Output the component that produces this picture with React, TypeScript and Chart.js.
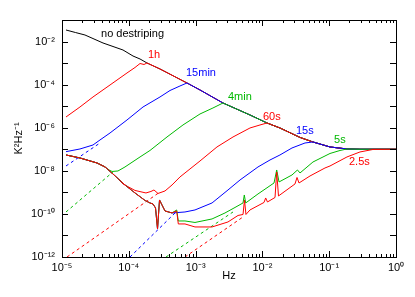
import React, { useEffect, useRef } from "react";
import { Chart, registerables } from "chart.js";

Chart.register(...registerables);

// Values are log10 of frequency (Hz) and of power (K²Hz⁻¹).

// "no destriping" curve; also the shared high-frequency tail of every destriped curve
const commonLogF = [-4.94, -4.8, -4.656, -4.386, -4.087, -3.937, -3.832, -3.728, -3.533, -3.129, -2.934, -2.59, -2.186, -1.931, -1.737, -1.437, -1.243, -0.988, -0.734, -0.539, 0];
const commonLogP = [-1.464, -1.58, -1.696, -2.067, -2.392, -2.671, -2.81, -2.995, -3.274, -3.923, -4.248, -4.852, -5.408, -5.78, -6.012, -6.45, -6.661, -6.893, -6.986, -7.0, -7.0];

// shared low-frequency residual of the short-baseline runs
const bundleLogF = [-4.94, -4.731, -4.476, -4.356, -4.237, -4.057, -3.907, -3.757, -3.683, -3.638, -3.6, -3.57, -3.54, -3.503, -3.458, -3.353];
const bundleLogP = [-7.265, -7.404, -7.636, -7.821, -8.146, -8.657, -9.028, -9.376, -9.492, -9.538, -9.724, -10.698, -9.353, -9.585, -9.863, -9.956];

const h1LogF = [-4.94, -4.731, -4.536, -4.281, -4.027, -3.907, -3.832, -3.772];
const h1LogP = [-5.501, -5.037, -4.573, -4.016, -3.459, -3.204, -3.019, -3.065];

const m15LogF = [-4.94, -4.731, -4.536, -4.431, -4.281, -4.027, -3.787, -3.533, -3.383, -3.234];
const m15LogP = [-7.111, -6.986, -6.801, -6.568, -6.244, -5.64, -5.037, -4.573, -4.272, -4.063];

const m4LogF = [-4.311, -4.251, -4.162, -4.057, -3.832, -3.683, -3.428, -3.189, -2.934, -2.74];
const m4LogP = [-7.937, -8.03, -8.007, -7.821, -7.357, -7.056, -6.429, -5.872, -5.362, -5.083];

const s60LogF = [-4.087, -3.907, -3.743, -3.668, -3.623, -3.563, -3.458, -3.353, -3.234, -3.084, -2.934, -2.68, -2.44, -2.186, -2.036];
const s60LogP = [-8.61, -8.912, -9.028, -8.958, -8.889, -9.051, -8.935, -8.657, -8.285, -7.914, -7.543, -6.893, -6.429, -6.012, -5.872];

const s15LogF = [-3.159, -3.009, -2.754, -2.515, -2.335, -2.066, -1.886, -1.737, -1.557, -1.362];
const s15LogP = [-9.91, -9.817, -9.492, -8.889, -8.425, -7.821, -7.497, -7.265, -6.94, -6.708];

const s5LogF = [-3.283, -3.259, -3.159, -3.009, -2.754, -2.56, -2.41, -2.29, -2.271, -2.25, -2.066, -1.826, -1.786, -1.751, -1.557, -1.475, -1.437, -1.243, -0.988, -0.838];
const s5LogP = [-9.817, -10.327, -10.327, -10.397, -10.234, -9.956, -9.701, -9.492, -9.121, -9.492, -9.074, -8.564, -7.961, -8.517, -8.193, -7.961, -8.1, -7.59, -7.195, -7.056];

const s25LogF = [-3.283, -3.259, -3.159, -3.009, -2.754, -2.515, -2.365, -2.29, -2.268, -2.246, -2.186, -1.976, -1.951, -1.924, -1.811, -1.786, -1.759, -1.512, -1.482, -1.452, -1.287, -1.063, -0.988, -0.734, -0.539, -0.344];
const s25LogP = [-9.863, -10.466, -10.466, -10.606, -10.606, -10.374, -10.072, -10.026, -9.353, -10.026, -9.817, -9.469, -9.26, -9.446, -9.237, -8.053, -9.167, -8.61, -8.309, -8.564, -8.239, -7.868, -7.775, -7.357, -7.125, -7.009];

// dashed model lines (start, end)
const d15mLogF = [-4.94, -4.431];
const d15mLogP = [-7.775, -6.708];
const d4mLogF = [-4.94, -4.237];
const d4mLogP = [-9.91, -8.053];
const d60LogF = [-4.925, -3.533];
const d60LogP = [-12.0, -8.981];
const d15LogF = [-3.982, -3.308];
const d15LogP = [-12.0, -9.956];
const d5LogF = [-3.443, -2.44];
const d5LogP = [-12.0, -9.91];
const d25LogF = [-3.159, -2.29];
const d25LogP = [-12.0, -10.142];

const xTickExps = [-5, -4, -3, -2, -1, 0];
const yTickExps = [-12, -10, -8, -6, -4, -2];
const yMarkExps = [-12, -11, -10, -9, -8, -7, -6, -5, -4, -3, -2, -1];

const curveLabels = ["no destriping", "1h", "15min", "4min", "60s", "15s", "5s", "2.5s"];
const labelLogF = [-4.416, -3.713, -3.144, -2.515, -1.991, -1.497, -0.928, -0.704];
const labelLogP = [-1.65, -2.624, -3.459, -4.573, -5.501, -6.151, -6.568, -7.589];

const RED = "rgb(255,0,0)";
const BLUE = "rgb(0,0,255)";
const GREEN = "rgb(0,185,0)";
const BLACK = "rgb(0,0,0)";
const labelColors = [BLACK, RED, BLUE, GREEN, RED, BLUE, GREEN, RED];

const FONT = "'Liberation Sans', Arial, Helvetica, sans-serif";

const SUP: Record<string, string> = { "-": "⁻", "0": "⁰", "1": "¹", "2": "²", "3": "³", "4": "⁴", "5": "⁵", "6": "⁶", "7": "⁷", "8": "⁸", "9": "⁹" };
const pow10Label = (e: number) => "10" + String(e).split("").map((c) => SUP[c] || c).join("");

type Pt = { x: number; y: number };
const pts = (lf: number[], lp: number[]): Pt[] => lf.map((f, i) => ({ x: 10 ** f, y: 10 ** lp[i] }));
const head = (lf: number[], lp: number[], maxF: number): Pt[] =>
  pts(lf, lp).filter((_, i) => lf[i] <= maxF + 1e-9);
const tail = (lf: number[], lp: number[], minF: number): Pt[] =>
  pts(lf, lp).filter((_, i) => lf[i] > minF + 1e-9);
const last = (a: number[]) => a[a.length - 1];

function curve(prefix: Pt[], ownF: number[], ownP: number[]): Pt[] {
  return [...prefix, ...pts(ownF, ownP), ...tail(commonLogF, commonLogP, last(ownF))];
}

const decorPlugin = {
  id: "decor",
  afterDraw(chart: any) {
    const { ctx, chartArea: a, scales } = chart;
    const xs = scales.x;
    const ys = scales.y;
    ctx.save();
    ctx.strokeStyle = "#000";
    ctx.lineWidth = 1;
    ctx.beginPath();
    xTickExps.forEach((e) => {
      for (let m = 1; m <= 9; m++) {
        const v = m * 10 ** e;
        if (v > 1.0001) break;
        const px = Math.round(xs.getPixelForValue(v)) + 0.5;
        const len = m === 1 ? 6 : 3;
        ctx.moveTo(px, a.bottom);
        ctx.lineTo(px, a.bottom - len);
        ctx.moveTo(px, a.top);
        ctx.lineTo(px, a.top + len);
      }
    });
    yMarkExps.forEach((e) => {
      const py = Math.round(ys.getPixelForValue(10 ** e)) + 0.5;
      ctx.moveTo(a.left, py);
      ctx.lineTo(a.left + 6, py);
      ctx.moveTo(a.right, py);
      ctx.lineTo(a.right - 6, py);
    });
    ctx.stroke();
    ctx.strokeRect(Math.round(a.left) + 0.5, Math.round(a.top) + 0.5, Math.round(a.right - a.left), Math.round(a.bottom - a.top));

    ctx.font = `11px ${FONT}`;
    ctx.textBaseline = "middle";
    ctx.textAlign = "left";
    curveLabels.forEach((t, i) => {
      ctx.fillStyle = labelColors[i];
      ctx.fillText(t, xs.getPixelForValue(10 ** labelLogF[i]), ys.getPixelForValue(10 ** labelLogP[i]));
    });

    ctx.fillStyle = "#000";
    ctx.textAlign = "center";
    ctx.fillText("Hz", (a.left + a.right) / 2, 276);
    ctx.translate(19, (a.top + a.bottom) / 2);
    ctx.rotate(-Math.PI / 2);
    ctx.fillText("K²Hz⁻¹", 0, 0);
    ctx.restore();
  },
};

export default function App() {
  const ref = useRef<HTMLCanvasElement | null>(null);
  useEffect(() => {
    document.body.style.margin = "0";
    const solid = (data: Pt[], color: string, order: number) => ({
      data,
      borderColor: color,
      backgroundColor: color,
      borderWidth: 1,
      pointRadius: 0,
      showLine: true,
      fill: false,
      tension: 0,
      order,
    });
    const dashed = (lf: number[], lp: number[], color: string) => ({
      ...solid(pts(lf, lp), color, 20),
      borderDash: [3, 3],
    });
    const bundle = pts(bundleLogF, bundleLogP);
    const datasets: any[] = [
      solid(pts(commonLogF, commonLogP), BLACK, 10),
      solid(curve([], h1LogF, h1LogP), RED, 9),
      solid(curve([], m15LogF, m15LogP), BLUE, 8),
      solid(curve(head(bundleLogF, bundleLogP, -4.356), m4LogF, m4LogP), GREEN, 7),
      solid(curve(head(bundleLogF, bundleLogP, -4.237), s60LogF, s60LogP), RED, 6),
      solid(curve(bundle, s15LogF, s15LogP), BLUE, 5),
      solid(curve(bundle, s5LogF, s5LogP), GREEN, 4),
      solid(curve(bundle, s25LogF, s25LogP), RED, 3),
      dashed(d15mLogF, d15mLogP, BLUE),
      dashed(d4mLogF, d4mLogP, GREEN),
      dashed(d60LogF, d60LogP, RED),
      dashed(d15LogF, d15LogP, BLUE),
      dashed(d5LogF, d5LogP, GREEN),
      dashed(d25LogF, d25LogP, RED),
    ];
    const chart = new Chart(ref.current as HTMLCanvasElement, {
      type: "scatter",
      data: { datasets },
      plugins: [decorPlugin],
      options: {
        animation: false,
        responsive: false,
        devicePixelRatio: 1,
        layout: { padding: { top: 20, right: 19, left: 0, bottom: 0 } },
        plugins: { legend: { display: false }, tooltip: { enabled: false } },
        scales: {
          x: {
            type: "logarithmic",
            min: 1e-5,
            max: 1,
            grid: { display: false, drawTicks: false },
            border: { display: false },
            afterBuildTicks: (s: any) => {
              s.ticks = xTickExps.map((e) => ({ value: 10 ** e }));
            },
            afterFit: (s: any) => {
              s.height = 40;
            },
            ticks: {
              autoSkip: false,
              maxRotation: 0,
              padding: 4,
              color: "#000",
              font: { family: FONT, size: 11 },
              callback: (v: any) => pow10Label(Math.round(Math.log10(Number(v)))),
            },
          },
          y: {
            type: "logarithmic",
            min: 1e-12,
            max: 1e-1,
            grid: { display: false, drawTicks: false },
            border: { display: false },
            afterBuildTicks: (s: any) => {
              s.ticks = yTickExps.map((e) => ({ value: 10 ** e }));
            },
            afterFit: (s: any) => {
              s.width = 62;
            },
            ticks: {
              autoSkip: false,
              padding: 7,
              color: "#000",
              font: { family: FONT, size: 11 },
              callback: (v: any) => pow10Label(Math.round(Math.log10(Number(v)))),
            },
          },
        },
      },
    });
    return () => chart.destroy();
  }, []);
  return (
    <div style={{ width: 415, height: 297, background: "#fff" }}>
      <canvas ref={ref} width={415} height={297} />
    </div>
  );
}
